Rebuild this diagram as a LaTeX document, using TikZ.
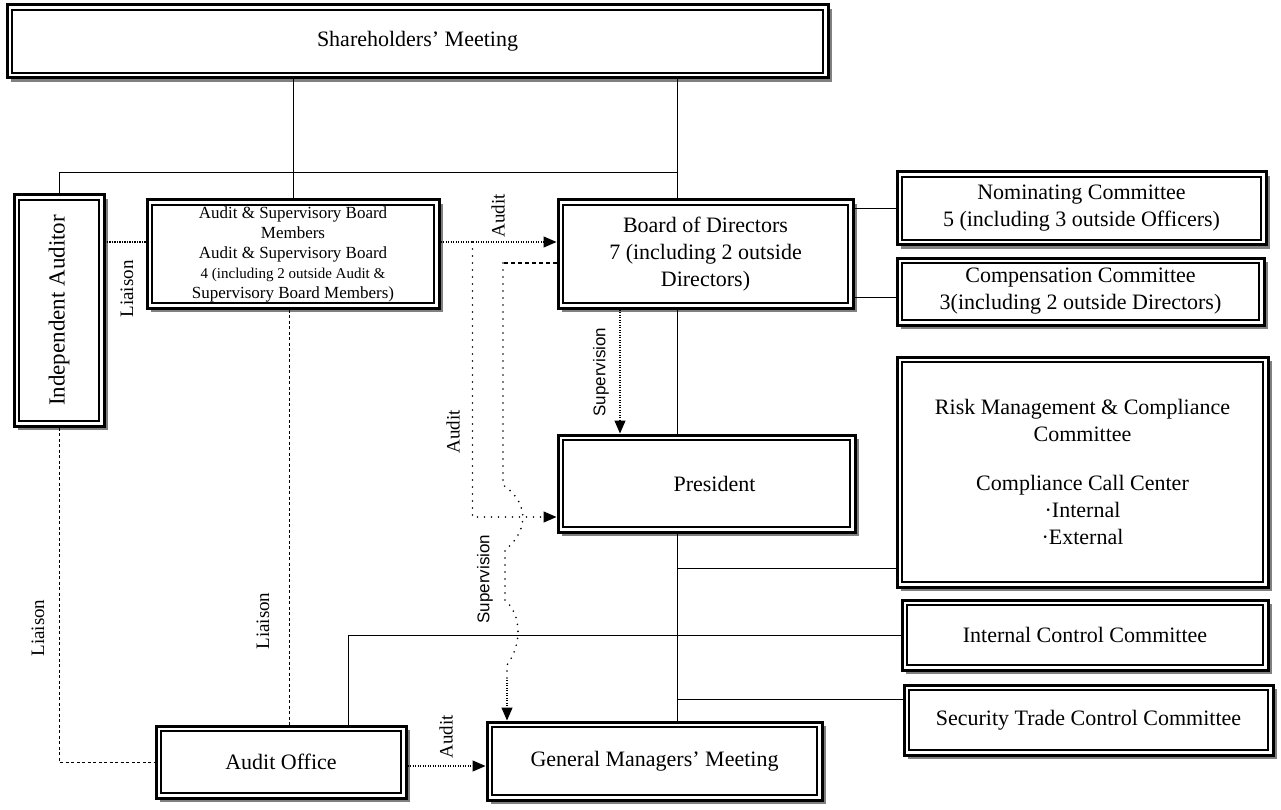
\documentclass[tikz,border=0pt]{standalone}
\usepackage{fontspec}
\setmainfont{Liberation Serif}
\setsansfont{Liberation Sans}
\usepackage{tikz}
\usetikzlibrary{positioning,arrows.meta,shadows}

\begin{document}
\begin{tikzpicture}[x=1pt,y=-1pt,
  orgbox/.style={draw,line width=3pt,fill=white,inner sep=0pt,align=center,
    font=\fontsize{22}{27}\selectfont,
    drop shadow={shadow xshift=4pt,shadow yshift=-4pt,fill=gray,opacity=1},
    path picture={\draw[line width=1.6pt]
      ([shift={(5pt,5pt)}]path picture bounding box.south west) rectangle
      ([shift={(-5pt,-5pt)}]path picture bounding box.north east);}},
  lbl/.style={rotate=90,inner sep=1pt,font=\fontsize{19}{22}\selectfont},
  slbl/.style={rotate=90,inner sep=1pt,font=\sffamily\fontsize{17}{20}\selectfont},
  dotline/.style={line width=1.2pt,dash pattern=on 1.2pt off 1.3pt},
  sparse/.style={line width=1.8pt,line cap=round,dash pattern=on 0pt off 7pt},
  dashline/.style={line width=1pt,dash pattern=on 3pt off 2.5pt},
  tip/.style={-{Triangle[length=13pt,width=11pt]}}]
  \useasboundingbox (0,0) rectangle (1281,810);
  \fill[white] (0,0) rectangle (1281,810);

  \node[orgbox,minimum width=821,minimum height=73] (share) at (417.5,41.5) {Shareholders’ Meeting};
  \node[orgbox,minimum width=90,minimum height=231,font=\fontsize{23}{27}\selectfont] (ia) at (59,310.5) {\rotatebox{90}{Independent\ Auditor}};
  \node[orgbox,minimum width=292,minimum height=108,font=\fontsize{17}{20}\selectfont] (asb) at (293,254)
    {Audit \& Supervisory Board\\Members\\Audit \& Supervisory Board\\
     \fontsize{15}{18}\selectfont 4 (including 2 outside Audit \&\\Supervisory Board Members)};
  \node[orgbox,minimum width=295,minimum height=108] (bod) at (705.5,254) {Board of Directors\\7 (including 2 outside\\Directors)};
  \node[orgbox,minimum width=369,minimum height=73] (nom) at (1081.5,208.5) {Nominating Committee\\5 (including 3 outside Officers)};
  \node[orgbox,minimum width=367,minimum height=67] (comp) at (1080.5,291.5) {Compensation Committee\\3(including 2 outside Directors)};
  \node[orgbox,minimum width=371,minimum height=230] (rmc) at (1082.5,472)
    {Risk Management \& Compliance\\Committee\\[22pt]Compliance Call Center\\·Internal\\·External};
  \node[orgbox,minimum width=297,minimum height=97] (pres) at (706.5,483.5) {\hspace*{16pt}President};
  \node[orgbox,minimum width=366,minimum height=70] (icc) at (1085,635) {Internal Control Committee};
  \node[orgbox,minimum width=369,minimum height=70] (stc) at (1088.5,720) {Security Trade Control Committee};
  \node[orgbox,minimum width=250,minimum height=72] (ao) at (281,762) {Audit Office};
  \node[orgbox,minimum width=335,minimum height=78] (gmm) at (654.5,761) {General Managers’ Meeting};

  \coordinate (spine) at (677,0);
  \coordinate (asbl) at ([yshift=12pt]asb.west);
  \coordinate (asbr) at ([yshift=12pt]asb.east);
  \coordinate (split) at ([xshift=32pt]asbr);
  \coordinate (presin) at ([yshift=-33.5pt]pres.west);
  \coordinate (supt) at ([xshift=-85.5pt]bod.south);
  \coordinate (bodsup) at ([yshift=-9pt]bod.west);
  \coordinate (bend) at (503,263);
  \coordinate (gmmin) at ([xshift=-147.5pt]gmm.north);
  \coordinate (lia) at ([xshift=-4pt]asb.south);
  \coordinate (aor) at ([yshift=-4pt]ao.east);
  \coordinate (aotap) at ([xshift=67pt]ao.north);
  \coordinate (rmcin) at ([yshift=20pt]rmc.south west);
  \coordinate (stcin) at ([yshift=21pt]stc.west);
  \coordinate (compin) at ([yshift=-5.5pt]comp.west);

  \draw[line width=1pt] (asb.north) -- (asb.north |- share.south);
  \draw[line width=1pt] (share.south -| spine) -- (bod.north -| spine);
  \draw[line width=1pt] (bod.south -| spine) -- (pres.north -| spine);
  \draw[line width=1pt] (pres.south -| spine) -- (gmm.north -| spine);
  \draw[line width=1pt] (ia.north) |- (spine |- 0,173);
  \draw[line width=1pt] (nom.west) -- (nom.west -| bod.east);
  \draw[line width=1pt] (compin) -- (compin -| bod.east);
  \draw[line width=1pt] (rmcin) -- (rmcin -| spine);
  \draw[line width=1pt] (icc.west) -| (aotap);
  \draw[line width=1pt] (stcin) -- (stcin -| spine);

  \draw[dotline] (asbl) -- (asbl -| ia.east);
  \draw[dotline,tip] (asbr) -- (asbr -| bod.west);
  \draw[sparse] (split) |- ([xshift=-8pt]presin);
  \draw[dotline,tip] ([xshift=-10pt]presin) -- (presin);
  \draw[dotline,tip] (supt) -- (supt |- pres.north);
  \draw[line width=2.4pt,dash pattern=on 3.5pt off 3.5pt] (bodsup) -- (bend);
  \draw[sparse] (bend) -- (503,485) .. controls (526,500) and (532,528) .. (505,550)
    -- (505,600) .. controls (522,615) and (522,645) .. (507,665) -- (507,680);
  \draw[dotline,tip] (507,680) -- (gmmin);
  \draw[dashline] (lia) -- (lia |- ao.north);
  \draw[dashline] (ia.south) |- (ao.west);
  \draw[dotline,tip] (aor) -- (aor -| gmm.west);

  \node[lbl] (liaisontop) at (127,289) {Liaison};
  \node[lbl] (auditbod) at (498,216) {Audit};
  \node[lbl] (auditpres) at (453,432) {Audit};
  \node[slbl] (suppres) at (601,372) {Supervision};
  \node[slbl] (supgmm) at (485,579) {Supervision};
  \node[lbl] (liaisonleft) at (38,628) {Liaison};
  \node[lbl] (liaisonmid) at (263,621) {Liaison};
  \node[lbl] (auditao) at (446,737) {Audit};
\end{tikzpicture}
\end{document}
